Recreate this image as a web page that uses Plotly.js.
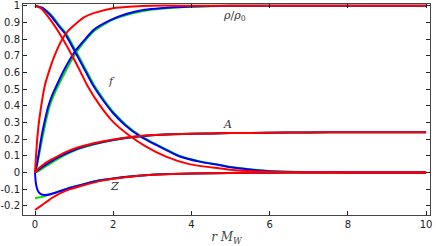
<!DOCTYPE html>
<html>
<head>
<meta charset="utf-8">
<script src="https://cdn.plot.ly/plotly-3.0.1.min.js"></script>
<style>html,body{margin:0;padding:0;background:#fff;}#chart{width:436px;height:246px;}</style>
</head>
<body>
<div id="chart"></div>
<script>
// rho/rho0 curves
const rhoRedX = [0, 0.04, 0.085, 0.15, 0.25, 0.35, 0.5, 0.7, 0.85, 1.06, 1.25, 1.5, 2, 2.5, 3, 4, 6, 8, 10];
const rhoRedY = [0, 0.15, 0.27, 0.385, 0.52, 0.6, 0.7, 0.8, 0.85, 0.895, 0.93, 0.955, 0.985, 0.995, 1, 1, 1, 1, 1];
const rhoBlueX = [0, 0.05, 0.1, 0.17, 0.25, 0.33, 0.45, 0.55, 0.7, 0.9, 1.02, 1.25, 1.5, 1.9, 2.33, 2.8, 3.2, 4, 5, 6, 8, 10];
const rhoBlueY = [0, 0.05, 0.12, 0.22, 0.31, 0.39, 0.47, 0.52, 0.595, 0.68, 0.725, 0.79, 0.855, 0.91, 0.95, 0.975, 0.985, 0.995, 1, 1, 1, 1];
const rhoGreenX = [0, 0.05, 0.1, 0.2, 0.3, 0.4, 0.55, 0.7, 0.9, 1.1, 1.5, 2, 2.5, 3, 3.5, 4, 5, 6, 8, 10];
const rhoGreenY = [0, 0.04, 0.1, 0.22, 0.33, 0.415, 0.5, 0.57, 0.66, 0.735, 0.845, 0.918, 0.955, 0.977, 0.988, 0.994, 0.999, 1, 1, 1];

// f curves
const fRedX = [0, 0.15, 0.3, 0.5, 0.7, 0.95, 1.15, 1.33, 1.65, 1.99, 2.42, 2.84, 3.35, 3.94, 4.7, 5.04, 6, 7, 8, 10];
const fRedY = [1, 0.985, 0.945, 0.88, 0.805, 0.7, 0.61, 0.525, 0.405, 0.305, 0.22, 0.155, 0.095, 0.05, 0.025, 0.015, 0.004, 0.001, 0, 0];
const fBlueX = [0, 0.2, 0.42, 0.6, 0.76, 1.02, 1.25, 1.48, 1.75, 2.0, 2.3, 2.63, 2.93, 3.1, 3.69, 4.2, 4.7, 5.05, 6, 7, 8, 10];
const fBlueY = [1, 0.985, 0.935, 0.88, 0.835, 0.725, 0.625, 0.524, 0.43, 0.355, 0.285, 0.225, 0.185, 0.165, 0.097, 0.065, 0.045, 0.03, 0.008, 0.002, 0, 0];
const fGreenX = [0, 0.2, 0.45, 0.63, 0.79, 1.05, 1.28, 1.51, 1.78, 2.03, 2.33, 2.66, 2.96, 3.13, 3.72, 4.2, 4.7, 5.05, 6, 7, 8, 10];
const fGreenY = [1, 0.985, 0.935, 0.88, 0.835, 0.725, 0.625, 0.524, 0.43, 0.355, 0.285, 0.225, 0.185, 0.165, 0.097, 0.067, 0.046, 0.031, 0.009, 0.002, 0, 0];

// A curves
const aRedX = [0, 0.1, 0.2, 0.4, 0.6, 0.8, 1.0, 1.2, 1.5, 2.0, 2.5, 3.0, 3.5, 4, 5, 6, 7, 8, 10];
const aRedY = [0, 0.025, 0.045, 0.075, 0.1, 0.123, 0.142, 0.157, 0.175, 0.198, 0.214, 0.224, 0.229, 0.232, 0.236, 0.238, 0.24, 0.241, 0.241];
const aBlueX = [0, 0.1, 0.2, 0.4, 0.6, 0.8, 1.0, 1.2, 1.5, 2.0, 2.5, 3.0, 3.5, 4, 5, 6, 7, 8, 10];
const aBlueY = [0, 0.018, 0.035, 0.065, 0.092, 0.115, 0.135, 0.151, 0.17, 0.195, 0.212, 0.223, 0.229, 0.232, 0.236, 0.238, 0.24, 0.241, 0.241];
const aGreenX = [0, 0.1, 0.2, 0.4, 0.6, 0.8, 1.0, 1.2, 1.5, 2.0, 2.5, 3.0, 3.5, 4, 5, 6, 7, 8, 10];
const aGreenY = [0, 0.01, 0.025, 0.055, 0.083, 0.108, 0.13, 0.148, 0.168, 0.194, 0.211, 0.223, 0.229, 0.232, 0.236, 0.238, 0.24, 0.241, 0.241];

// Z curves
const zRedX = [0, 0.15, 0.3, 0.45, 0.64, 0.9, 1.15, 1.65, 2, 2.5, 3, 4, 5, 6, 7, 8, 10];
const zRedY = [-0.225, -0.2, -0.175, -0.15, -0.125, -0.1, -0.083, -0.052, -0.038, -0.024, -0.014, -0.006, -0.003, -0.001, 0, 0, 0];
const zBlueX = [0, 0.02, 0.05, 0.09, 0.15, 0.25, 0.4, 0.6, 0.9, 1.2, 1.6, 2, 2.5, 3, 3.5, 4, 5, 6, 7, 8, 10];
const zBlueY = [0, -0.06, -0.095, -0.117, -0.13, -0.135, -0.13, -0.115, -0.092, -0.073, -0.05, -0.036, -0.023, -0.013, -0.009, -0.006, -0.003, -0.001, 0, 0, 0];
const zGreenX = [0, 0.2, 0.4, 0.6, 0.9, 1.2, 1.6, 2, 2.5, 3, 3.5, 4, 5, 6, 7, 8, 10];
const zGreenY = [-0.155, -0.145, -0.13, -0.115, -0.092, -0.073, -0.05, -0.036, -0.023, -0.013, -0.009, -0.006, -0.003, -0.001, 0, 0, 0];

// tick labels
const xTickVals = [0, 2, 4, 6, 8, 10];
const xTickText = ['0', '2', '4', '6', '8', '10'];
const yTickVals = [-0.2, -0.1, 0, 0.1, 0.2, 0.3, 0.4, 0.5, 0.6, 0.7, 0.8, 0.9, 1];
const yTickText = ['-0.2', '-0.1', '0', '0.1', '0.2', '0.3', '0.4', '0.5', '0.6', '0.7', '0.8', '0.9', '1'];

const GREEN = '#00dd00', BLUE = '#0000ff', RED = '#ff0000';
function tr(x, y, c) {
  return {x: x, y: y, type: 'scatter', mode: 'lines',
    line: {color: c, width: 2, shape: 'spline', smoothing: 0.6},
    hoverinfo: 'skip', showlegend: false};
}
const data = [
  tr(rhoGreenX, rhoGreenY, GREEN), tr(fGreenX, fGreenY, GREEN), tr(aGreenX, aGreenY, GREEN), tr(zGreenX, zGreenY, GREEN),
  tr(rhoBlueX, rhoBlueY, BLUE), tr(fBlueX, fBlueY, BLUE), tr(aBlueX, aBlueY, BLUE), tr(zBlueX, zBlueY, BLUE),
  tr(rhoRedX, rhoRedY, RED), tr(fRedX, fRedY, RED), tr(aRedX, aRedY, RED), tr(zRedX, zRedY, RED)
];
const serif = {family: 'DejaVu Serif, serif', size: 11, color: '#333'};
const layout = {
  width: 436, height: 246,
  margin: {l: 23, r: 6, t: 4, b: 31, pad: 0},
  paper_bgcolor: '#fff', plot_bgcolor: '#fff',
  font: {family: 'DejaVu Sans, sans-serif', size: 10, color: '#222'},
  xaxis: {range: [-0.307, 10.1], tickvals: xTickVals, ticktext: xTickText,
    ticks: 'inside', ticklen: 4, tickcolor: '#222', tickwidth: 1,
    showline: true, linecolor: '#444', linewidth: 1, mirror: 'ticks',
    showgrid: false, zeroline: false,
    title: {text: '<i>r M</i><sub><i>W</i></sub>', font: {family: 'DejaVu Serif, serif', size: 12, color: '#444'}, standoff: 6}},
  yaxis: {range: [-0.255, 1.01], tickvals: yTickVals, ticktext: yTickText,
    ticks: 'inside', ticklen: 4, tickcolor: '#222', tickwidth: 1,
    showline: true, linecolor: '#444', linewidth: 1, mirror: 'ticks',
    showgrid: false, zeroline: false},
  annotations: [
    {x: 5.11, y: 0.938, xref: 'x', yref: 'y', text: '<i>ρ</i>/<i>ρ</i><sub>0</sub>', showarrow: false, font: serif},
    {x: 1.95, y: 0.544, xref: 'x', yref: 'y', text: '<i>f</i>', showarrow: false, font: serif},
    {x: 4.92, y: 0.29, xref: 'x', yref: 'y', text: '<i>A</i>', showarrow: false, font: serif},
    {x: 2.02, y: -0.086, xref: 'x', yref: 'y', text: '<i>Z</i>', showarrow: false, font: serif}
  ]
};
Plotly.newPlot('chart', data, layout, {staticPlot: true, displayModeBar: false});
</script>
</body>
</html>
